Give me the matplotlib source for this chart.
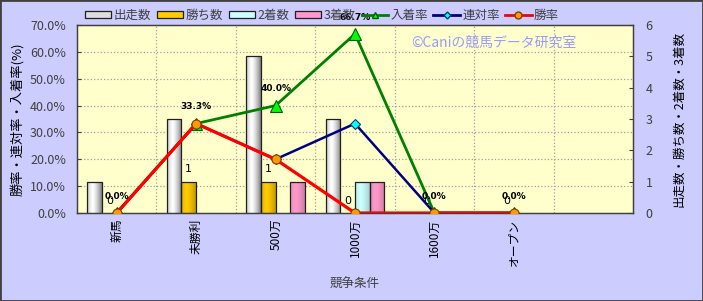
import numpy as np
import matplotlib
matplotlib.use('Agg')
import matplotlib.pyplot as plt
from matplotlib.patches import Rectangle
from matplotlib.lines import Line2D
from matplotlib.colors import to_rgb

plt.rcParams['font.family'] = ['Noto Sans CJK JP', 'DejaVu Sans']

# ---- data ----
categories = ['新馬', '未勝利', '500万', '1000万', '1600万', 'オープン', '']
starts = [1, 3, 5, 3, 0, 0]
wins = [0, 1, 1, 0, 0, 0]
seconds = [0, 0, 0, 1, 0, 0]
thirds = [0, 0, 1, 1, 0, 0]
place_rate = [0.0, 33.3, 40.0, 66.7, 0.0, 0.0]
quinella_rate = [0.0, 33.3, 20.0, 33.3, 0.0, 0.0]
win_rate = [0.0, 33.3, 20.0, 0.0, 0.0, 0.0]

bar_names = ['出走数', '勝ち数', '2着数', '3着数']
bar_colors = ['#FFFFFF', '#FFCC00', '#CCFFFF', '#FF99CC']
line_names = ['入着率', '連対率', '勝率']

BG = '#CCCCFF'
PLOT_BG = '#FFFFCC'
TXT = '#404040'

fig = plt.figure(figsize=(7.03, 3.01), dpi=100, facecolor=BG)
ax = fig.add_axes([77/703, 1-213/301, (633-77)/703, (213-25)/301])
ax.set_facecolor(PLOT_BG)
ax2 = ax.twinx()

n = len(categories)
x = np.arange(len(starts))
w = 0.185


def shade_bar(axis, rect, base, lo):
    x0, y0 = rect.get_x(), rect.get_y()
    bw, bh = rect.get_width(), rect.get_height()
    if bh <= 0:
        return
    t = np.linspace(0, 1, 64)
    prof = 1 - (1 - lo) * np.clip(np.abs(t - 0.38) / 0.62, 0, 1) ** 1.4
    rgb = np.array(to_rgb(base))
    img = (rgb[None, :] * prof[:, None])[None, :, :]
    im = axis.imshow(img, extent=[x0, x0 + bw, y0, y0 + bh], aspect='auto',
                     zorder=rect.get_zorder() - 0.05, interpolation='bilinear')
    im.set_clip_path(rect)


series = [starts, wins, seconds, thirds]
lows = [0.5, 0.75, 0.8, 0.8]
win_bars = None
for k, (vals, col, lo) in enumerate(zip(series, bar_colors, lows)):
    bars = ax.bar(x + (k - 1.5) * w, vals, width=w, facecolor='none',
                  edgecolor='#202020', linewidth=0.9, zorder=3)
    for r in bars:
        if r.get_height() == 0:
            r.set_linewidth(0)
        shade_bar(ax, r, col, lo)
    if k == 1:
        win_bars = bars

for r, v in zip(win_bars, wins):
    ax.annotate(str(v), (r.get_x() + r.get_width() / 2, r.get_height()),
                xytext=(0, 9), textcoords='offset points', ha='center',
                va='center', fontsize=8, color='#000000', family='DejaVu Sans',
                zorder=6)

ax.set_xlim(-0.5, n - 0.5)
ax.set_ylim(0, 6)
ax.set_yticks(range(0, 7))
ax.set_yticks(np.linspace(0, 6, 8), minor=True)
ax.set_xticks(range(n))
ax.set_xticklabels(categories, rotation=90, fontsize=8.5)
ax.set_xticks(np.arange(0.5, n - 0.5, 1), minor=True)
ax.grid(which='minor', color='#A0A0A0', linestyle=':', linewidth=0.9, zorder=0)
ax.set_axisbelow(True)
ax.tick_params(axis='x', which='both', length=0, pad=4, colors='#000000')
ax.tick_params(axis='y', which='minor', length=0)
ax.tick_params(axis='y', which='major', length=3, direction='in', labelsize=9,
               labelcolor=TXT, color=TXT, pad=9)
ax.yaxis.tick_right()
ax.yaxis.set_label_position('right')
ax.set_ylabel('出走数・勝ち数・2着数・3着数', fontsize=9, rotation=90,
              labelpad=14, color='#000000')

# lines
ax2.plot(x, place_rate, color='#008000', linewidth=2, marker='^',
         markersize=8, markerfacecolor='#00FF00', markeredgecolor='#006000',
         markeredgewidth=0.8, zorder=4)
ax2.plot(x, quinella_rate, color='#000080', linewidth=1.8, marker='D',
         markersize=5, markerfacecolor='#00FFFF', markeredgecolor='#004060',
         markeredgewidth=0.8, zorder=5)
ax2.plot(x, win_rate, color='#FF0000', linewidth=2.3, marker='o',
         markersize=6.5, markerfacecolor='#FF9900', markeredgecolor='#804000',
         markeredgewidth=0.8, zorder=6)
for xi, v in zip(x, place_rate):
    ax2.annotate(f'{v:.1f}%', (xi, v), xytext=(0, 12), textcoords='offset points',
                 ha='center', va='center', fontsize=6.5, fontweight='bold',
                 family='DejaVu Sans', color='#000000', zorder=7)

ax2.set_ylim(0, 70)
ax2.set_yticks(np.arange(0, 71, 10))
ax2.set_yticklabels([f'{v:.1f}%' for v in np.arange(0, 71, 10)])
ax2.yaxis.tick_left()
ax2.yaxis.set_label_position('left')
ax2.tick_params(axis='y', length=3, direction='in', labelsize=9,
                labelcolor=TXT, color=TXT, pad=8)
ax2.set_ylabel('勝率・連対率・入着率(%)', fontsize=9.5, rotation=90, labelpad=4,
               color='#000000')

for a in (ax, ax2):
    for s in a.spines.values():
        s.set_color('#404040')
        s.set_linewidth(0.9)

ax.set_xlabel('競争条件', fontsize=9, color=TXT, labelpad=9)

ax.text(0.75, 0.905, '©Caniの競馬データ研究室', transform=ax.transAxes,
        ha='center', va='center', fontsize=10, color='#9999FF', zorder=8)

# legend
handles = [Rectangle((0, 0), 1, 1, facecolor=c if c != '#FFFFFF' else '#DDDDDD',
                     edgecolor='#202020', linewidth=0.9) for c in bar_colors]
handles += [
    Line2D([], [], color='#008000', linewidth=2, marker='^', markersize=5,
           markerfacecolor='#00FF00', markeredgecolor='#006000'),
    Line2D([], [], color='#000080', linewidth=2, marker='D', markersize=3.5,
           markerfacecolor='#00FFFF', markeredgecolor='#004060'),
    Line2D([], [], color='#FF0000', linewidth=2, marker='o', markersize=5,
           markerfacecolor='#FF9900', markeredgecolor='#804000'),
]
leg = fig.legend(handles, bar_names + line_names, loc='center left',
                 bbox_to_anchor=(80/703, 1-15/301), ncol=7, frameon=False,
                 fontsize=9, handlelength=2.1, handleheight=0.5,
                 handletextpad=0.2, columnspacing=0.45, borderaxespad=0)
for t in leg.get_texts():
    t.set_color(TXT)

fig.patches.append(Rectangle((0, 0), 1, 1, transform=fig.transFigure,
                             facecolor='none', edgecolor='#404040',
                             linewidth=2, zorder=10))

fig.savefig('out.png', dpi=100, facecolor=BG)
